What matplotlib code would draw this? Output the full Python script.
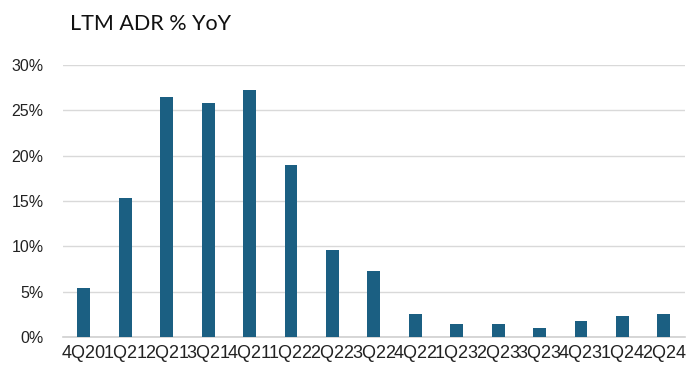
import matplotlib
matplotlib.use("Agg")
import matplotlib.pyplot as plt
from matplotlib.ticker import PercentFormatter

# quarterly LTM ADR growth, year over year (%)
quarters = ["4Q20", "1Q21", "2Q21", "3Q21", "4Q21", "1Q22", "2Q22", "3Q22",
            "4Q22", "1Q23", "2Q23", "3Q23", "4Q23", "1Q24", "2Q24"]
adr_yoy = [5.4, 15.3, 26.5, 25.8, 27.3, 19.0, 9.6, 7.3,
           2.6, 1.4, 1.4, 1.0, 1.8, 2.3, 2.5]

fig = plt.figure(figsize=(6.86, 3.70), dpi=100)
ax = fig.add_axes([0.092, 0.089, 0.906, 0.735])

x = range(len(quarters))
ax.bar(x, adr_yoy, width=0.31, color="#1b5f82", zorder=3)

ax.set_xlim(-0.5, len(quarters) - 0.5)
ax.set_ylim(0, 30)
ax.set_yticks(range(0, 31, 5))
ax.yaxis.set_major_formatter(PercentFormatter(decimals=0))
ax.set_xticks(list(x))
ax.set_xticklabels(quarters)

for lbl in ax.get_yticklabels():
    lbl.set_fontfamily("Liberation Sans")
    lbl.set_fontsize(11.5)
    lbl.set_color("#222222")
for lbl in ax.get_xticklabels():
    lbl.set_fontfamily("Liberation Sans")
    lbl.set_fontsize(13)
    lbl.set_color("#222222")

ax.grid(axis="y", color="#d9d9d9", linewidth=1, zorder=0)
ax.tick_params(length=0, pad=6)
ax.tick_params(axis="y", pad=14)
for s in ["top", "right", "left"]:
    ax.spines[s].set_visible(False)
ax.spines["bottom"].set_color("#d0d0d0")
ax.spines["bottom"].set_linewidth(1.2)

fig.text(0.102, 0.935, "LTM ADR % YoY", fontsize=15.5, family="Lato",
         color="#111111", va="center")

fig.savefig("out.png", dpi=100)
